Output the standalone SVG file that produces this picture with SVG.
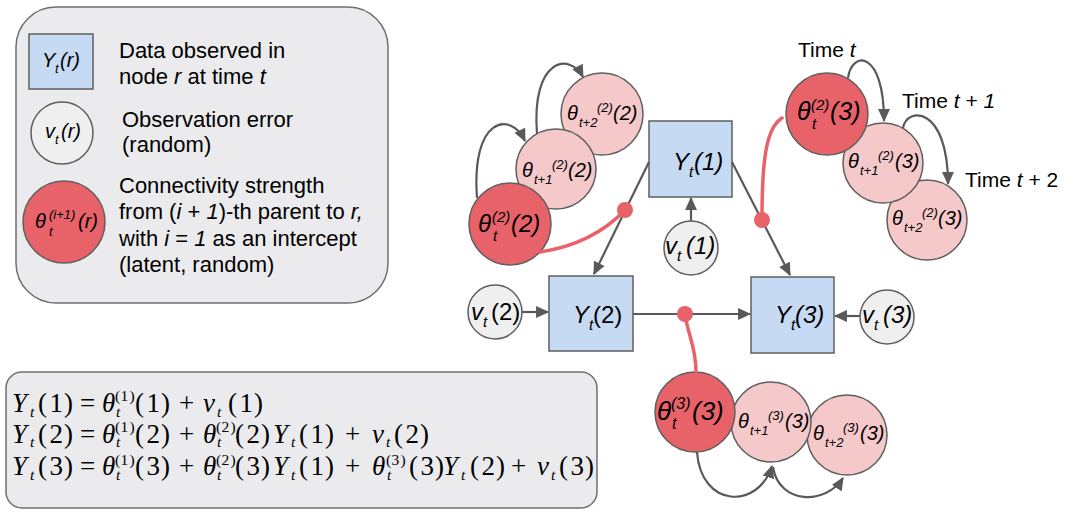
<svg xmlns="http://www.w3.org/2000/svg" width="1067" height="513" viewBox="0 0 1067 513">
<defs>
<style>
.s{font-family:"Liberation Sans",Arial,sans-serif;fill:#000}
.i{font-style:italic}
.m{font-family:"Liberation Serif","Times New Roman",serif;fill:#000;font-size:27px}
.ms{font-size:15.5px}
.box{fill:#ebebed;stroke:#6f6f6f;stroke-width:1.5}
.obs{fill:#c6daf4;stroke:#5f5f5f;stroke-width:1.5}
.err{fill:#efefef;stroke:#5f5f5f;stroke-width:1.5}
.th0{fill:#e8626a;stroke:#5f5f5f;stroke-width:1.5}
.th1{fill:#f5c8ca;stroke:#5f5f5f;stroke-width:1.5}
.e{stroke:#595959;stroke-width:2.2;fill:none}
.r{stroke:#e8626a;stroke-width:3.5;fill:none;stroke-linecap:round}
.dot{fill:#e8626a}
</style>
<marker id="ah" viewBox="0 0 12 12" refX="11" refY="6" markerWidth="13" markerHeight="13" markerUnits="userSpaceOnUse" orient="auto">
<path d="M0,0.5 L12,6 L0,11.5 z" fill="#595959"/>
</marker>
</defs>

<!-- Legend -->
<g id="legend">
<rect class="box" x="16" y="7" width="372" height="296" rx="40"/>
<rect class="obs" x="29" y="34" width="64" height="55"/>
<text class="s i" font-size="20" y="67"><tspan x="42">Y</tspan><tspan x="55" y="73" font-size="13">t</tspan><tspan x="60" y="67">(r)</tspan></text>
<circle class="err" cx="62" cy="133" r="31"/>
<text class="s i" font-size="20" y="138"><tspan x="45">v</tspan><tspan x="55" y="144" font-size="13">t</tspan><tspan x="61" y="138">(r)</tspan></text>
<circle class="th0" cx="64" cy="222" r="41"/>
<text class="s i" font-size="20" y="228"><tspan x="35">θ</tspan><tspan x="49" y="219" font-size="13">(i+1)</tspan><tspan x="49" y="236" font-size="13">t</tspan><tspan x="78" y="228">(r)</tspan></text>
<text class="s" font-size="22"><tspan x="119" y="58">Data observed in</tspan><tspan x="119" y="84">node <tspan class="i">r</tspan> at time <tspan class="i">t</tspan></tspan></text>
<text class="s" font-size="22"><tspan x="122" y="127">Observation error</tspan><tspan x="122" y="152">(random)</tspan></text>
<text class="s" font-size="22"><tspan x="119" y="193">Connectivity strength</tspan><tspan x="119" y="219">from (<tspan class="i">i</tspan> + <tspan class="i">1</tspan>)-th parent to <tspan class="i">r,</tspan></tspan><tspan x="119" y="246">with <tspan class="i">i</tspan> = <tspan class="i">1</tspan> as an intercept</tspan><tspan x="119" y="272">(latent, random)</tspan></text>
</g>

<!-- Equations -->
<g id="equations">
<rect class="box" x="6" y="372" width="591" height="136" rx="16"/>
<text class="m"><tspan class="i" x="12" y="412">Y</tspan><tspan class="i ms" x="30" y="417">t</tspan><tspan x="38 49.5 64" y="412">(1)</tspan><tspan x="80" y="412">=</tspan><tspan class="i" x="102" y="412">θ</tspan><tspan class="ms" x="115 120.5 129.5" y="401">(1)</tspan><tspan class="i ms" x="116" y="417">t</tspan><tspan x="135 146.5 161" y="412">(1)</tspan><tspan x="179" y="412">+</tspan><tspan class="i" x="203" y="412">v</tspan><tspan class="i ms" x="217" y="417">t</tspan><tspan x="228 239.5 254" y="412">(1)</tspan><tspan class="i" x="12" y="443">Y</tspan><tspan class="i ms" x="30" y="447">t</tspan><tspan x="38 49.5 64" y="443">(2)</tspan><tspan x="80" y="443">=</tspan><tspan class="i" x="102" y="443">θ</tspan><tspan class="ms" x="115 120.5 129.5" y="432">(1)</tspan><tspan class="i ms" x="116" y="447">t</tspan><tspan x="135 146.5 161" y="443">(2)</tspan><tspan x="179" y="443">+</tspan><tspan class="i" x="203" y="443">θ</tspan><tspan class="ms" x="216 221.5 230.5" y="432">(2)</tspan><tspan class="i ms" x="217" y="447">t</tspan><tspan x="235 246.5 261" y="443">(2)</tspan><tspan class="i" x="273" y="443">Y</tspan><tspan class="i ms" x="291" y="447">t</tspan><tspan x="299 310.5 325" y="443">(1)</tspan><tspan x="345" y="443">+</tspan><tspan class="i" x="372" y="443">v</tspan><tspan class="i ms" x="386" y="447">t</tspan><tspan x="394 405.5 420" y="443">(2)</tspan><tspan class="i" x="12" y="475">Y</tspan><tspan class="i ms" x="30" y="480">t</tspan><tspan x="38 49.5 64" y="475">(3)</tspan><tspan x="80" y="475">=</tspan><tspan class="i" x="102" y="475">θ</tspan><tspan class="ms" x="115 120.5 129.5" y="465">(1)</tspan><tspan class="i ms" x="116" y="480">t</tspan><tspan x="135 146.5 161" y="475">(3)</tspan><tspan x="179" y="475">+</tspan><tspan class="i" x="203" y="475">θ</tspan><tspan class="ms" x="216 221.5 230.5" y="465">(2)</tspan><tspan class="i ms" x="217" y="480">t</tspan><tspan x="235 246.5 261" y="475">(3)</tspan><tspan class="i" x="273" y="475">Y</tspan><tspan class="i ms" x="291" y="480">t</tspan><tspan x="299 310.5 325" y="475">(1)</tspan><tspan x="345" y="475">+</tspan><tspan class="i" x="372" y="475">θ</tspan><tspan class="ms" x="386 391.5 400.5" y="465">(3)</tspan><tspan class="i ms" x="387" y="480">t</tspan><tspan x="409 420.5 435" y="475">(3)</tspan><tspan class="i" x="443" y="475">Y</tspan><tspan class="i ms" x="461" y="480">t</tspan><tspan x="470 481.5 496" y="475">(2)</tspan><tspan x="511" y="475">+</tspan><tspan class="i" x="537" y="475">v</tspan><tspan class="i ms" x="551" y="480">t</tspan><tspan x="559 570.5 585" y="475">(3)</tspan></text>
</g>

<!-- Observed nodes -->
<g id="Y1">
<rect class="obs" x="649" y="121" width="83" height="76"/>
<text class="s i" font-size="24"><tspan x="673" y="170">Y</tspan><tspan x="689" y="177" font-size="15">t</tspan><tspan x="694" y="170">(1)</tspan></text>
</g>
<g id="Y2">
<rect class="obs" x="549" y="276" width="84" height="75"/>
<text class="s" font-size="24"><tspan class="i" x="573" y="323">Y</tspan><tspan class="i" x="589" y="330" font-size="15">t</tspan><tspan x="593" y="323">(2)</tspan></text>
</g>
<g id="Y3">
<rect class="obs" x="751" y="277" width="83" height="76"/>
<text class="s i" font-size="24"><tspan x="775" y="323">Y</tspan><tspan x="791" y="330" font-size="15">t</tspan><tspan x="795" y="323">(3)</tspan></text>
</g>

<!-- Error nodes -->
<g id="v1">
<circle class="err" cx="691" cy="248" r="27"/>
<text class="s i" font-size="24"><tspan x="665" y="254">v</tspan><tspan x="677" y="261" font-size="15">t</tspan><tspan x="686" y="254">(1)</tspan></text>
</g>
<g id="v2">
<circle class="err" cx="495" cy="312" r="27"/>
<text class="s" font-size="24"><tspan class="i" x="471" y="320">v</tspan><tspan class="i" x="483" y="327" font-size="15">t</tspan><tspan x="491" y="320">(2)</tspan></text>
</g>
<g id="v3">
<circle class="err" cx="887" cy="317" r="27"/>
<text class="s i" font-size="24"><tspan x="862" y="323">v</tspan><tspan x="874" y="330" font-size="15">t</tspan><tspan x="883" y="323">(3)</tspan></text>
</g>

<!-- Theta chain for node 2 -->
<g id="th2_2_t2">
<circle class="th1" cx="602" cy="114" r="41"/>
<text class="s i" font-size="20"><tspan x="567" y="120">θ</tspan><tspan x="579" y="127" font-size="13">t+2</tspan><tspan x="597" y="112" font-size="13">(2)</tspan><tspan x="613" y="120">(2)</tspan></text>
</g>
<g id="th2_2_t1">
<circle class="th1" cx="556" cy="169" r="40"/>
<text class="s i" font-size="20"><tspan x="522" y="177">θ</tspan><tspan x="534" y="184" font-size="13">t+1</tspan><tspan x="552" y="169" font-size="13">(2)</tspan><tspan x="568" y="177">(2)</tspan></text>
</g>
<g id="th2_2_t">
<circle class="th0" cx="510" cy="224" r="41"/>
<text class="s i" font-size="24"><tspan x="478" y="232">θ</tspan><tspan x="492" y="222" font-size="15">(2)</tspan><tspan x="493" y="241" font-size="15">t</tspan><tspan x="511" y="232">(2)</tspan></text>
</g>

<!-- Theta chain for node 3 (from 1) -->
<g id="th2_3_t2">
<circle class="th1" cx="927" cy="220" r="40"/>
<text class="s i" font-size="20"><tspan x="892" y="225">θ</tspan><tspan x="904" y="232" font-size="13">t+2</tspan><tspan x="922" y="217" font-size="13">(2)</tspan><tspan x="938" y="225">(3)</tspan></text>
</g>
<g id="th2_3_t1">
<circle class="th1" cx="883" cy="163" r="40"/>
<text class="s i" font-size="20"><tspan x="848" y="168">θ</tspan><tspan x="860" y="175" font-size="13">t+1</tspan><tspan x="878" y="160" font-size="13">(2)</tspan><tspan x="895" y="168">(3)</tspan></text>
</g>
<g id="th2_3_t">
<circle class="th0" cx="827" cy="114" r="41"/>
<text class="s i" font-size="25"><tspan x="797" y="120">θ</tspan><tspan x="811" y="110" font-size="15">(2)</tspan><tspan x="812" y="129" font-size="15">t</tspan><tspan x="830" y="120">(3)</tspan></text>
</g>

<!-- Theta chain for node 3 (from 2) -->
<g id="th3_3_t2">
<circle class="th1" cx="847" cy="435" r="40"/>
<text class="s i" font-size="20"><tspan x="813" y="440">θ</tspan><tspan x="825" y="447" font-size="13">t+2</tspan><tspan x="843" y="432" font-size="13">(3)</tspan><tspan x="860" y="440">(3)</tspan></text>
</g>
<g id="th3_3_t1">
<circle class="th1" cx="771" cy="422" r="40"/>
<text class="s i" font-size="20"><tspan x="738" y="428">θ</tspan><tspan x="750" y="435" font-size="13">t+1</tspan><tspan x="768" y="420" font-size="13">(3)</tspan><tspan x="785" y="428">(3)</tspan></text>
</g>
<g id="th3_3_t">
<circle class="th0" cx="695" cy="412" r="40"/>
<text class="s i" font-size="26"><tspan x="657" y="420">θ</tspan><tspan x="671" y="409" font-size="16">(3)</tspan><tspan x="672" y="429" font-size="16">t</tspan><tspan x="692" y="420">(3)</tspan></text>
</g>

<!-- Time labels -->
<g id="time-labels">
<text class="s" font-size="21" x="798" y="57">Time <tspan class="i">t</tspan></text>
<text class="s" font-size="21" x="902" y="108">Time <tspan class="i">t</tspan> + <tspan class="i">1</tspan></text>
<text class="s" font-size="21" x="965" y="187">Time <tspan class="i">t</tspan> + 2</text>
</g>

<!-- Connectors -->
<g id="connectors">
<line class="e" x1="649" y1="162" x2="594" y2="274" marker-end="url(#ah)"/>
<line class="e" x1="732" y1="162" x2="790" y2="275" marker-end="url(#ah)"/>
<line class="e" x1="691" y1="221" x2="691" y2="198" marker-end="url(#ah)"/>
<line class="e" x1="522" y1="312" x2="548" y2="312" marker-end="url(#ah)"/>
<line class="e" x1="860" y1="316" x2="835" y2="316" marker-end="url(#ah)"/>
<line class="e" x1="633" y1="314" x2="750" y2="314" marker-end="url(#ah)"/>
<path class="e" d="M477,198 C471,118 510,110 525,141" marker-end="url(#ah)"/>
<path class="e" d="M537,134 C531,58 570,52 583,77" marker-end="url(#ah)"/>
<path class="e" d="M848,78 C852,50 884,50 884,121" marker-end="url(#ah)"/>
<path class="e" d="M903,128 C907,106 948,106 948,184" marker-end="url(#ah)"/>
<path class="e" d="M697,452 C701,508 758,510 772,466" marker-end="url(#ah)"/>
<path class="e" d="M773,467 C779,505 826,505 843,478" marker-end="url(#ah)"/>
<path class="r" d="M540,252 C580,246 606,230 625,210"/>
<circle class="dot" cx="625" cy="210" r="8"/>
<path class="r" d="M782,118 C766,128 762,160 762,220"/>
<circle class="dot" cx="762" cy="220" r="8"/>
<path class="r" d="M685,314 C688,336 696,346 696,372"/>
<circle class="dot" cx="685" cy="314" r="8"/>
</g>
</svg>
